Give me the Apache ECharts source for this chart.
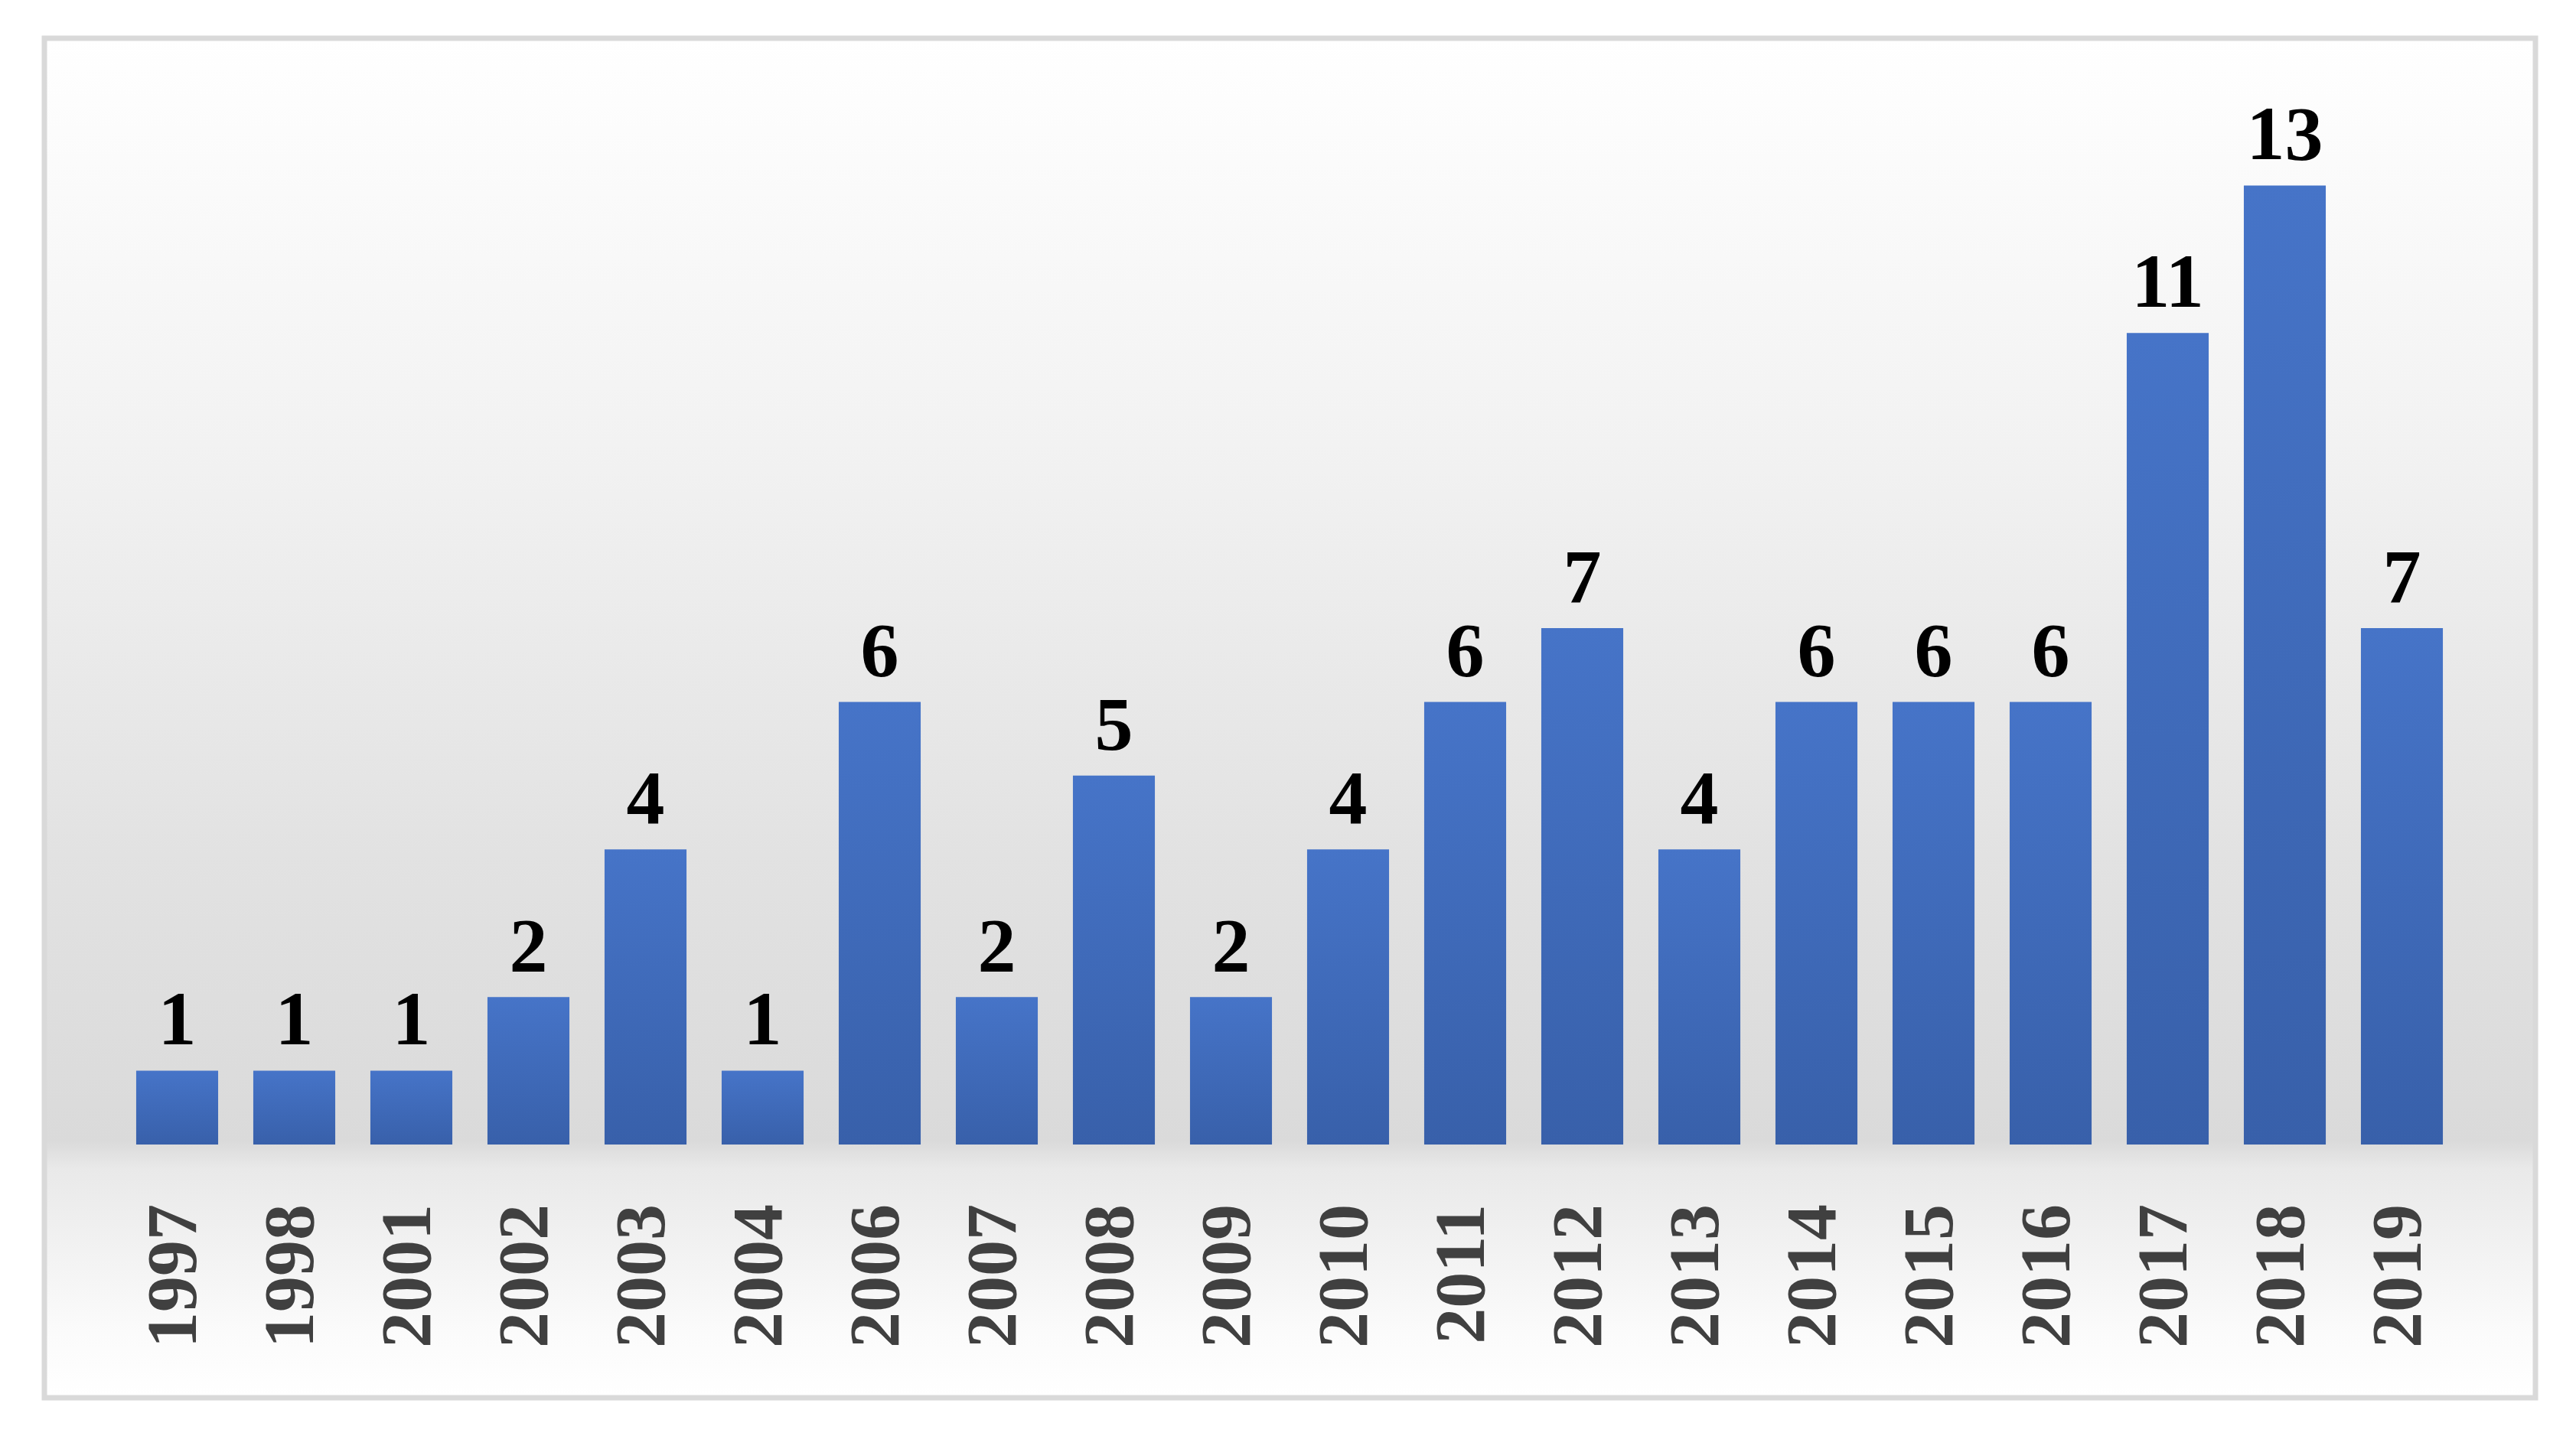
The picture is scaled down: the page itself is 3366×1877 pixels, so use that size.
<!DOCTYPE html>
<html>
<head>
<meta charset="utf-8">
<title>Bar chart</title>
<script src="https://cdn.jsdelivr.net/npm/echarts@6/dist/echarts.min.js"></script>
<style>
  html, body { margin: 0; padding: 0; background: #ffffff; }
  #main { width: 3366px; height: 1877px; }
</style>
</head>
<body>
<div id="main"></div>
<script>
// years on the category axis
const years = ["1997", "1998", "2001", "2002", "2003", "2004", "2006", "2007", "2008", "2009",
  "2010", "2011", "2012", "2013", "2014", "2015", "2016", "2017", "2018", "2019"];
// count per year
const counts = [1, 1, 1, 2, 4, 1, 6, 2, 5, 2, 4, 6, 7, 4, 6, 6, 6, 11, 13, 7];

const serif = '"Liberation Serif", "DejaVu Serif", serif';

const chart = echarts.init(document.getElementById("main"));
chart.setOption({
  animation: false,
  backgroundColor: "#ffffff",
  graphic: [
    {
      type: "rect",
      z: -10,
      silent: true,
      shape: { x: 58, y: 50, width: 3255, height: 1777 },
      style: {
        stroke: "#d9d9d9",
        lineWidth: 7,
        fill: new echarts.graphic.LinearGradient(0, 0, 0, 1, [
          { offset: 0, color: "#ffffff" },
          { offset: 0.3, color: "#f2f2f2" },
          { offset: 0.6, color: "#e2e2e2" },
          { offset: 0.81, color: "#dadada" },
          { offset: 0.83, color: "#e9e9e9" },
          { offset: 0.95, color: "#fbfbfb" },
          { offset: 1, color: "#ffffff" }
        ])
      }
    }
  ],
  grid: { left: 155, right: 151, top: 146, bottom: 381, containLabel: false },
  xAxis: {
    type: "category",
    data: years,
    axisLine: { show: false },
    axisTick: { show: false },
    axisLabel: {
      rotate: 90,
      margin: 78,
      fontFamily: serif,
      fontWeight: "bold",
      fontSize: 94,
      color: "#404040"
    }
  },
  yAxis: {
    type: "value",
    min: 0,
    max: 14,
    show: false,
    splitLine: { show: false }
  },
  series: [
    {
      type: "bar",
      data: counts,
      barCategoryGap: "30%",
      itemStyle: {
        color: new echarts.graphic.LinearGradient(0, 0, 0, 1, [
          { offset: 0, color: "#4674c8" },
          { offset: 1, color: "#3860aa" }
        ])
      },
      label: {
        show: true,
        position: "top",
        distance: 10,
        fontFamily: serif,
        fontWeight: "bold",
        fontSize: 100,
        color: "#000000"
      }
    }
  ]
});
</script>
</body>
</html>
